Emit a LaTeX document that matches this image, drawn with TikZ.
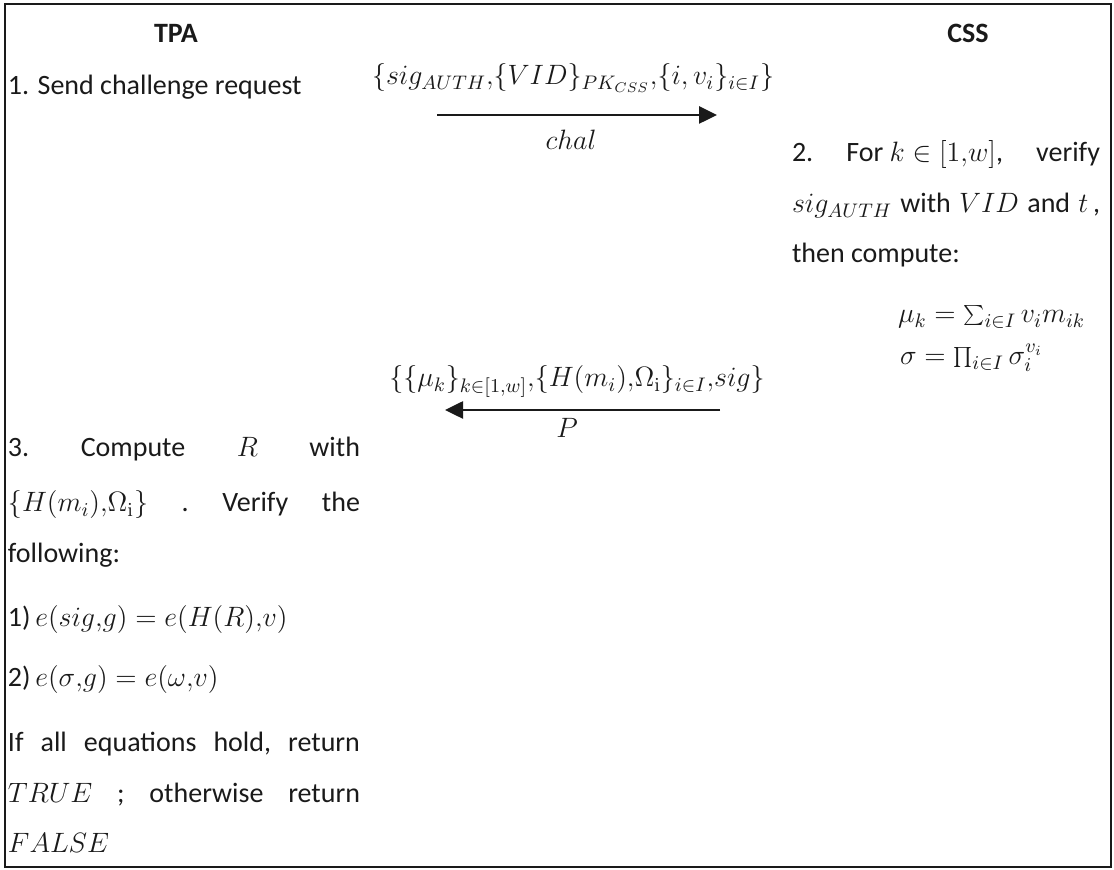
\documentclass[tikz,border=0pt]{standalone}
\usepackage{fix-cm}
\usepackage[no-math]{fontspec}
\setmainfont{Carlito}
\usetikzlibrary{arrows.meta}
\definecolor{ink}{HTML}{1A1A1A}
% a line of text stretched to a fixed width, given in canvas pixels
\newcommand{\spanpx}[2]{\hbox to \dimexpr#1pt/2\relax{#2}}
% a tight comma inside formulas
\newcommand{\cm}{\mathord{,}}
\begin{document}
\begin{tikzpicture}[x=0.5pt,y=-0.5pt,
  every node/.style={inner sep=0pt, outer sep=0pt, text=ink, font=\fontsize{14}{17}\selectfont},
  head/.style={font=\fontsize{14}{17}\selectfont\bfseries, anchor=base},
  txt/.style={anchor=base west},
  lbl/.style={anchor=base},
  msg/.style={draw=ink, line width=1.3pt, -{Triangle[length=9pt,width=8.5pt]}},
  frame/.style={draw=ink, line width=1.3pt}]
\useasboundingbox (0,0) rectangle (1114,870);
\draw[frame] (5,4) rectangle (1111,867);

% party headings
\node[head] (tpa) at (176,43) {TPA};
\node[head] (css) at (968,43) {CSS};

% step 1
\node[txt] (s1) at (8,95) {1. Send challenge request};

% challenge message
\coordinate (chalS) at (437,115);
\coordinate (chalE) at (717,115);
\draw[msg] (chalS) -- (chalE);
\node[lbl] (chalTop) at (573,85) {$\{sig_{AUTH}\cm\{VID\}_{PK_{CSS}}\cm\{i,v_i\}_{i\in I}\}$};
\node[lbl] (chalBot) at (571,150) {$chal$};

% step 2 on the server side
\node[txt] (s2a) at (792,162) {\spanpx{308}{2.\hfill For $k\in[1\cm w]$,\hfill verify}};
\node[txt] (s2b) at (792,213) {\spanpx{308}{$sig_{AUTH}$\hfill with\hfill $VID$\hfill and\hfill $t$\,,}};
\node[txt] (s2c) at (792,263) {then compute:};
\node[txt] (mu) at (898,323) {$\mu_k=\sum_{i\in I}v_i m_{ik}$};
\node[txt] (sigma) at (900,365) {$\sigma=\prod_{i\in I}\sigma_i^{v_i}$};

% proof message
\coordinate (proofS) at (720,410);
\coordinate (proofE) at (445,410);
\draw[msg] (proofS) -- (proofE);
\node[lbl] (proofTop) at (577,387) {$\{\{\mu_k\}_{k\in[1\cm w]}\cm\{H(m_i)\cm\Omega_{\mathrm{i}}\}_{i\in I}\cm sig\}$};
\node[lbl] (proofBot) at (567,438) {$P$};

% step 3 on the auditor side
\node[txt] (s3a) at (8,457) {\spanpx{352}{3.\hfill Compute\hfill $R$\hfill with}};
\node[txt] (s3b) at (8,512) {\spanpx{352}{$\{H(m_i)\cm\Omega_{\mathrm{i}}\}$\hfill .\hfill Verify\hfill the}};
\node[txt] (s3c) at (8,563) {following:};
\node[txt] (eq1) at (8,627) {1)\,$e(sig\cm g)=e(H(R)\cm v)$};
\node[txt] (eq2) at (8,687) {2)\,$e(\sigma\cm g)=e(\omega\cm v)$};
\node[txt] (s3d) at (8,752) {\spanpx{352}{If\hfill all\hfill equations\hfill hold,\hfill return}};
\node[txt] (s3e) at (8,803) {\spanpx{352}{$TRUE$\hfill ;\hfill otherwise\hfill return}};
\node[txt] (s3f) at (8,853) {$FALSE$};
\end{tikzpicture}
\end{document}
